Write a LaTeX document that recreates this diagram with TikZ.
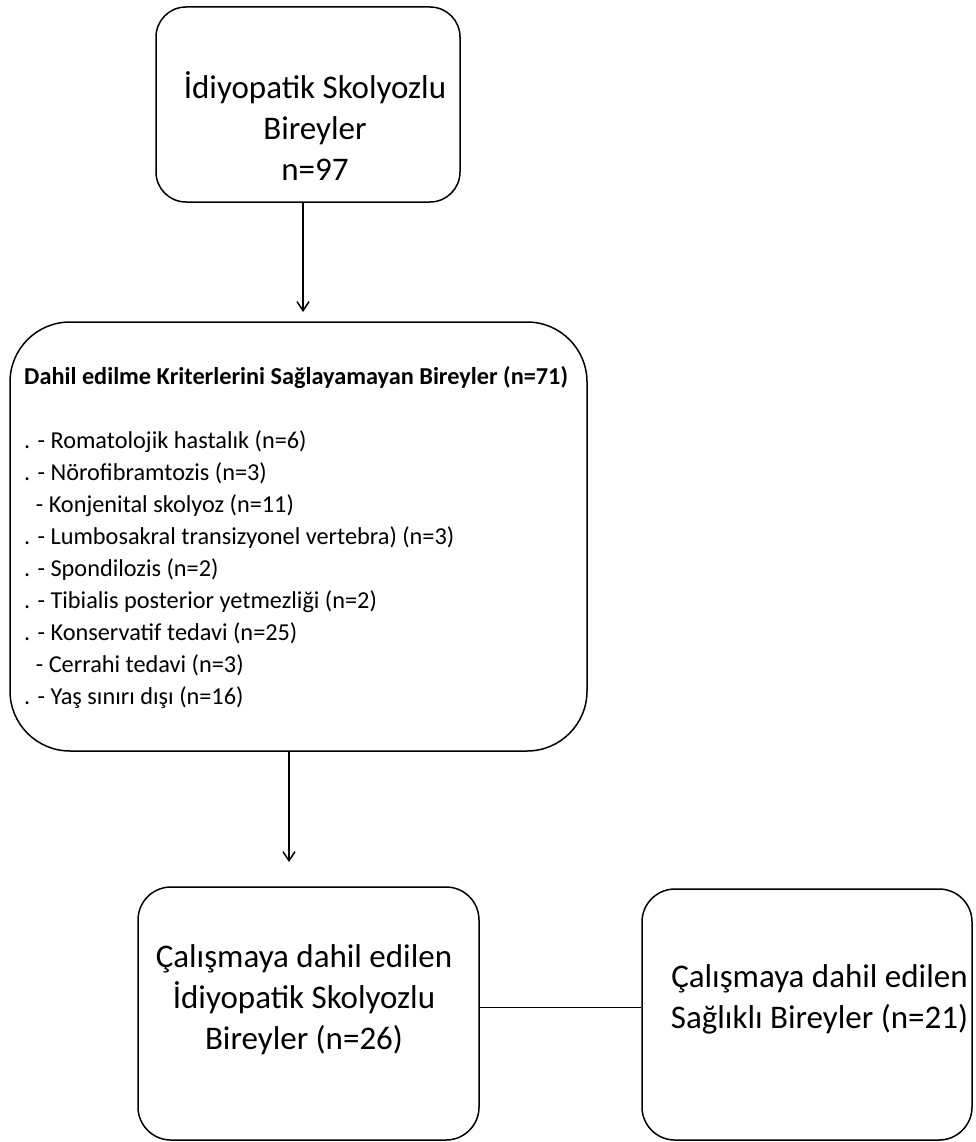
\documentclass[tikz,border=0pt]{standalone}
\usepackage{fontspec}
\setmainfont{Carlito}
\usetikzlibrary{arrows.meta}

\tikzset{
  box/.style={draw, line width=1.5pt, inner sep=0pt},
  bigtxt/.style={align=center, inner sep=0pt, font=\fontsize{33}{41}\selectfont},
  listtxt/.style={align=left, inner sep=0pt, font=\fontsize{24.3}{32}\selectfont},
  arr/.style={line width=1.5pt, -{Straight Barb[length=9pt,width=12pt]}}
}

\begin{document}
\begin{tikzpicture}[x=1pt, y=-1pt]
    \useasboundingbox (0,0) rectangle (976,1142);

    % all patients
    \node[box, rounded corners=30pt, minimum width=304pt, minimum height=195pt] (top) at (308,104.5) {};
    \node[bigtxt] (toptxt) at (315,126) {İdiyopatik Skolyozlu\\Bireyler\\n=97};

    % excluded
    \node[box, rounded corners=60pt, minimum width=577pt, minimum height=429pt] (excl) at (298.5,536.5) {};
    \node[listtxt, anchor=west] (excltxt) at (24,537.5) {\textbf{Dahil edilme Kriterlerini Sağlayamayan Bireyler (n=71)}\\[32pt]
        . - Romatolojik hastalık (n=6)\\
        . - Nörofibramtozis (n=3)\\
        \phantom{.} - Konjenital skolyoz (n=11)\\
        . - Lumbosakral transizyonel vertebra) (n=3)\\
        . - Spondilozis (n=2)\\
        . - Tibialis posterior yetmezliği (n=2)\\
        . - Konservatif tedavi (n=25)\\
        \phantom{.} - Cerrahi tedavi (n=3)\\
        . - Yaş sınırı dışı (n=16)};

    % included
    \node[box, rounded corners=33pt, minimum width=341pt, minimum height=253pt] (study) at (308.5,1013.5) {};
    \node[bigtxt] (studytxt) at (304,1000) {Çalışmaya dahil edilen\\İdiyopatik Skolyozlu\\Bireyler (n=26)};
    \node[box, rounded corners=33pt, minimum width=330pt, minimum height=251pt] (healthy) at (807,1014.5) {};
    \node[bigtxt] (healthytxt) at (819.5,999) {Çalışmaya dahil edilen\\Sağlıklı Bireyler (n=21)};

    % connectors
    \coordinate (a1) at (303,312);
    \coordinate (a2) at (289,862);
    \draw[arr] (top.south -| a1) -- (a1);
    \draw[arr] (excl.south -| a2) -- (a2);
    \draw[line width=1.5pt] ([yshift=6pt]study.east) -- ([yshift=6pt]study.east -| healthy.west);

\end{tikzpicture}
\end{document}
